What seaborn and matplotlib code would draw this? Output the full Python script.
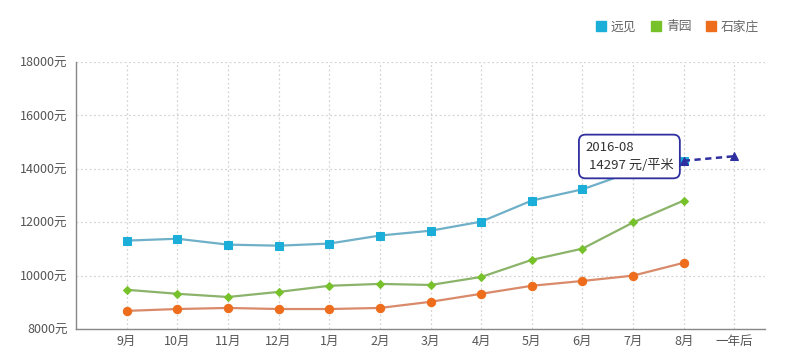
import matplotlib
matplotlib.use("Agg")
import matplotlib.pyplot as plt
from matplotlib.lines import Line2D
import seaborn as sns
import pandas as pd

sns.set_theme(style="white")
plt.rcParams["font.family"] = ["Noto Sans CJK SC", "DejaVu Sans"]

# data
months = ["9月", "10月", "11月", "12月", "1月", "2月", "3月", "4月", "5月", "6月", "7月", "8月", "一年后"]
yuanjian = [11310, 11380, 11160, 11120, 11200, 11500, 11680, 12020, 12810, 13230, 13900, 14297]
qingyuan = [9470, 9320, 9200, 9390, 9620, 9690, 9650, 9950, 10590, 11010, 11990, 12810]
shijiazhuang = [8680, 8750, 8790, 8750, 8750, 8790, 9020, 9320, 9620, 9800, 10000, 10480]
forecast = [14297, 14470]
yticks = [8000, 10000, 12000, 14000, 16000, 18000]

c_blue, c_green, c_orange, c_dark = "#1aaed8", "#77c22a", "#ee6d1c", "#2f2fa0"

fig = plt.figure(figsize=(8, 3.64), dpi=100)
ax = fig.add_axes([0.095, 0.096, 0.861, 0.734])

idx = list(range(len(yuanjian)))
sns.lineplot(x=idx, y=yuanjian, ax=ax, color="#6fb0c8", lw=1.6, marker="s",
             markersize=5.5, markerfacecolor=c_blue, markeredgecolor=c_blue)
sns.lineplot(x=idx, y=qingyuan, ax=ax, color="#8bb36a", lw=1.6, marker="D",
             markersize=4.2, markerfacecolor=c_green, markeredgecolor=c_green)
sns.lineplot(x=idx, y=shijiazhuang, ax=ax, color="#d98a6a", lw=1.6, marker="o",
             markersize=6, markerfacecolor=c_orange, markeredgecolor=c_orange)
# forecast drawn above the tooltip box
sns.lineplot(x=[11, 12], y=forecast, ax=ax, color=c_dark, lw=1.8, linestyle=(0, (2.5, 1.8)),
             marker="^", markersize=6, markerfacecolor=c_dark, markeredgecolor=c_dark, zorder=12)

ax.set_xlim(-1, 12.6)
ax.set_ylim(8000, 18000)
ax.set_xticks(range(len(months)))
ax.set_xticklabels(months)
ax.set_yticks(yticks)
ax.set_yticklabels([f"{v}元" for v in yticks])
ax.tick_params(axis="both", labelsize=9, colors="#555555", length=0, pad=4)
ax.tick_params(axis="y", length=3, color="#999999", pad=3)
ax.grid(True, color="#d4d4d4", linestyle=(0, (1.5, 2)), lw=0.9)

for s in ["top", "right"]:
    ax.spines[s].set_visible(False)
for s in ["left", "bottom"]:
    ax.spines[s].set_color("#888888")
    ax.spines[s].set_linewidth(1.0)

ax.text(9.06, 15030, "2016-08\n 14297 元/平米", fontsize=9.5, color="#333333",
        va="top", ha="left", linespacing=1.45, zorder=10,
        bbox=dict(boxstyle="round,pad=0.5,rounding_size=0.5", fc="white", ec=c_dark, lw=1.3))

handles = [Line2D([], [], marker="s", ls="", markersize=6.5, color=c) for c in (c_blue, c_green, c_orange)]
fig.legend(handles, ["远见", "青园", "石家庄"], loc="center right", bbox_to_anchor=(0.963, 0.926),
           ncol=3, frameon=False, fontsize=9.2, labelcolor="#666666", handletextpad=0.2,
           columnspacing=1.0, handlelength=1.1)

fig.savefig("out.png", dpi=100)
